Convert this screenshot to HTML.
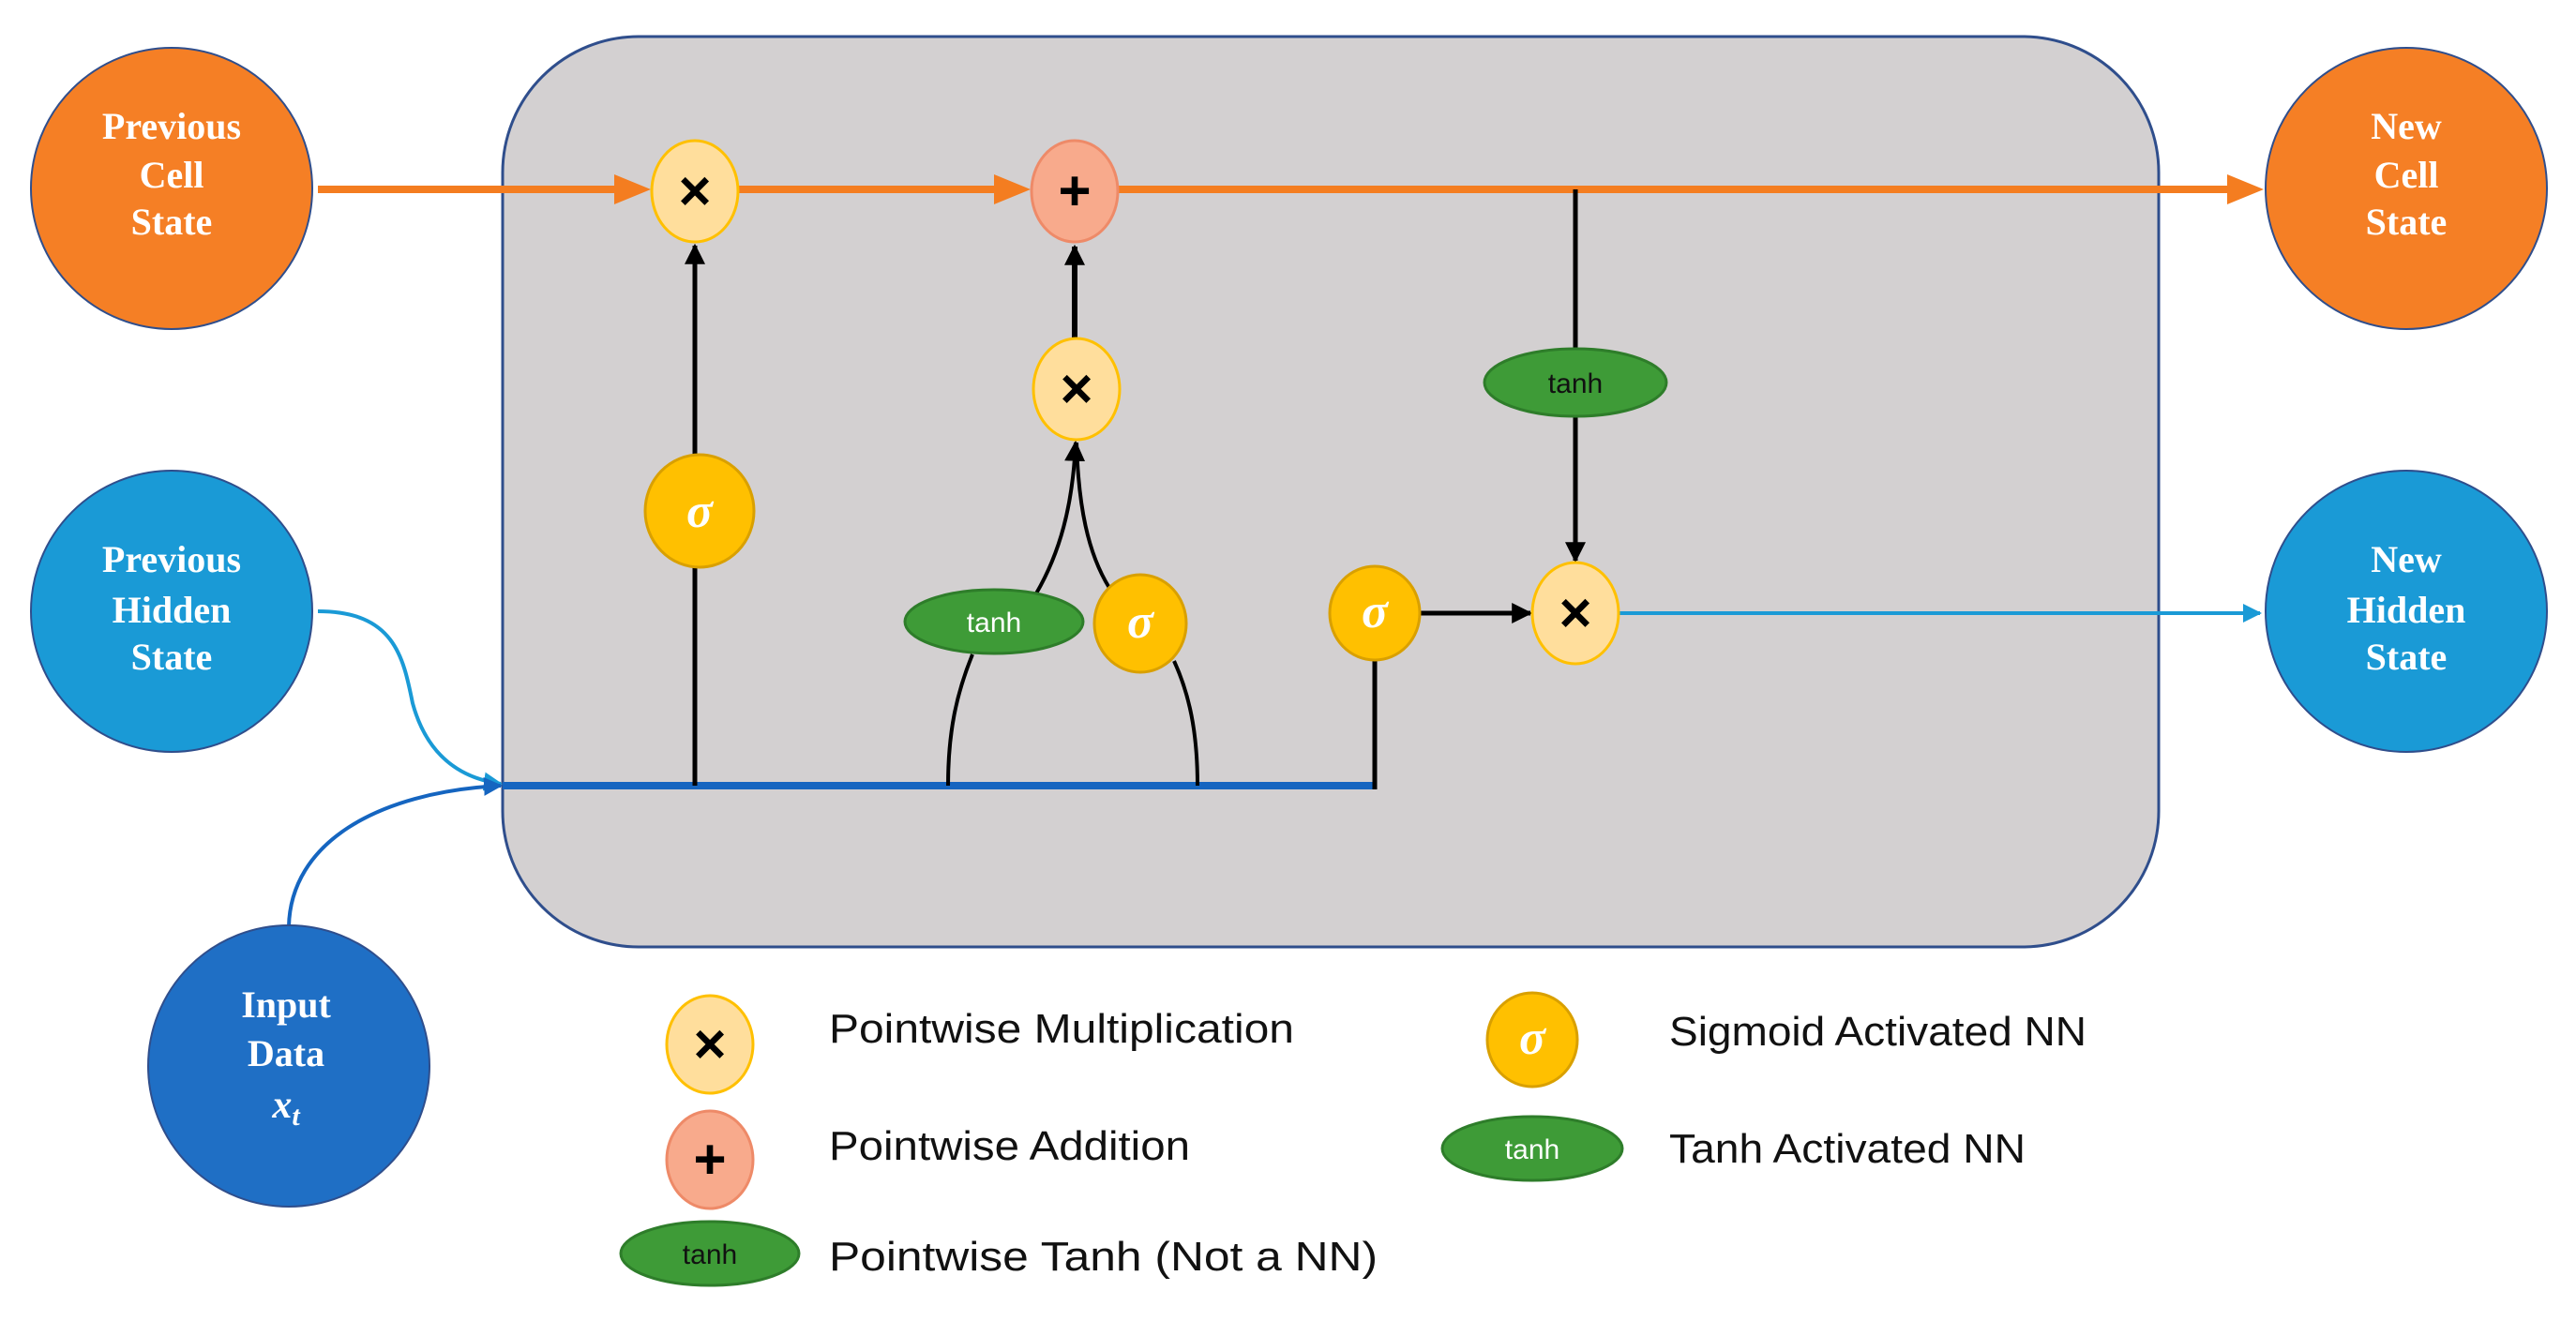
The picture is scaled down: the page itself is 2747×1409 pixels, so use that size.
<!DOCTYPE html>
<html><head><meta charset="utf-8"><style>
html,body{margin:0;padding:0;background:#fff;}
svg{display:block;}
.ct{font-family:"Liberation Serif",serif;font-weight:bold;fill:#fff;font-size:40px;text-anchor:middle;}
.lg{font-family:"Liberation Sans",sans-serif;font-size:44px;fill:#111;}
.tn{font-family:"Liberation Sans",sans-serif;font-size:30px;fill:#fff;text-anchor:middle;}
.op{font-family:"Liberation Sans",sans-serif;font-size:60px;font-weight:bold;fill:#000;text-anchor:middle;}
.sg{font-family:"Liberation Serif",serif;font-style:italic;font-weight:bold;font-size:52px;fill:#fff;text-anchor:middle;}
</style></head><body>
<svg width="2747" height="1409" viewBox="0 0 2747 1409" xmlns="http://www.w3.org/2000/svg">
<defs>
<marker id="ab" viewBox="0 0 10 10" refX="9" refY="5" markerWidth="22" markerHeight="22" orient="auto" markerUnits="userSpaceOnUse"><path d="M0,0 L10,5 L0,10z" fill="#000"/></marker>
<marker id="abl" viewBox="0 0 10 10" refX="9" refY="5" markerWidth="20" markerHeight="20" orient="auto" markerUnits="userSpaceOnUse"><path d="M0,0 L10,5 L0,10z" fill="#1A9AD6"/></marker>
<marker id="abd" viewBox="0 0 10 10" refX="9" refY="5" markerWidth="20" markerHeight="20" orient="auto" markerUnits="userSpaceOnUse"><path d="M0,0 L10,5 L0,10z" fill="#1565C0"/></marker>
</defs>
<rect x="536" y="39" width="1766" height="971" rx="145" ry="145" fill="#D3D0D1" stroke="#2F4E8C" stroke-width="3"/>

<line x1="339" y1="202" x2="660" y2="202" stroke="#F47D20" stroke-width="8"/>
<path d="M655,186 L694,202 L655,218z" fill="#F47D20"/>
<line x1="788" y1="202" x2="1065" y2="202" stroke="#F47D20" stroke-width="8"/>
<path d="M1060,186 L1099,202 L1060,218z" fill="#F47D20"/>
<line x1="1193" y1="202" x2="2380" y2="202" stroke="#F47D20" stroke-width="8"/>
<path d="M2375,186 L2414,202 L2375,218z" fill="#F47D20"/>

<line x1="536" y1="838" x2="1466" y2="838" stroke="#1565C0" stroke-width="8"/>
<line x1="1466" y1="842" x2="1466" y2="703" stroke="#000" stroke-width="5"/>

<line x1="741" y1="838" x2="741" y2="605" stroke="#000" stroke-width="5"/>
<line x1="741" y1="486" x2="741" y2="262" stroke="#000" stroke-width="5" marker-end="url(#ab)"/>

<path d="M1011,838 C1011,780 1020,740 1037,698" fill="none" stroke="#000" stroke-width="4"/>
<path d="M1277,838 C1277,780 1268,740 1252,705" fill="none" stroke="#000" stroke-width="4"/>
<path d="M1105,633 C1130,590 1144,540 1147,472" fill="none" stroke="#000" stroke-width="4" marker-end="url(#ab)"/>
<path d="M1183,627 C1160,590 1150,540 1148,472" fill="none" stroke="#000" stroke-width="4"/>
<line x1="1146" y1="360" x2="1146" y2="263" stroke="#000" stroke-width="6" marker-end="url(#ab)"/>

<line x1="1680" y1="202" x2="1680" y2="372" stroke="#000" stroke-width="5"/>
<line x1="1680" y1="444" x2="1680" y2="598" stroke="#000" stroke-width="5" marker-end="url(#ab)"/>
<line x1="1514" y1="654" x2="1632" y2="654" stroke="#000" stroke-width="5" marker-end="url(#ab)"/>
<line x1="1727" y1="654" x2="2410" y2="654" stroke="#1A9AD6" stroke-width="4" marker-end="url(#abl)"/>

<path d="M339,652 C420,652 430,700 440,750 C455,805 490,830 534,836" fill="none" stroke="#1A9AD6" stroke-width="4" marker-end="url(#abl)"/>
<path d="M308,988 C310,900 400,845 534,838" fill="none" stroke="#1565C0" stroke-width="4" marker-end="url(#abd)"/>

<ellipse cx="741" cy="204" rx="46" ry="54" fill="#FFDE9C" stroke="#FFC000" stroke-width="3"/>
<text x="741" y="224" class="op">×</text>
<ellipse cx="1146" cy="204" rx="46" ry="54" fill="#F8AA8C" stroke="#EE8A68" stroke-width="3"/>
<text x="1146" y="224" class="op">+</text>
<ellipse cx="1148" cy="415" rx="46" ry="54" fill="#FFDE9C" stroke="#FFC000" stroke-width="3"/>
<text x="1148" y="435" class="op">×</text>
<ellipse cx="746" cy="545" rx="58" ry="60" fill="#FFC000" stroke="#D9A000" stroke-width="3"/>
<text x="746" y="562" class="sg">σ</text>
<ellipse cx="1060" cy="663" rx="95" ry="34" fill="#3E9B37" stroke="#2E7D2A" stroke-width="3"/>
<text x="1060" y="674" class="tn">tanh</text>
<ellipse cx="1216" cy="665" rx="49" ry="52" fill="#FFC000" stroke="#D9A000" stroke-width="3"/>
<text x="1216" y="680" class="sg">σ</text>
<ellipse cx="1466" cy="654" rx="48" ry="50" fill="#FFC000" stroke="#D9A000" stroke-width="3"/>
<text x="1466" y="669" class="sg">σ</text>
<ellipse cx="1680" cy="408" rx="97" ry="36" fill="#3E9B37" stroke="#2E7D2A" stroke-width="3"/>
<text x="1680" y="419" class="tn" style="fill:#111">tanh</text>
<ellipse cx="1680" cy="654" rx="46" ry="54" fill="#FFDE9C" stroke="#FFC000" stroke-width="3"/>
<text x="1680" y="674" class="op">×</text>

<circle cx="183" cy="201" r="150" fill="#F57F25" stroke="#2F4E8C" stroke-width="2"/>
<text class="ct" x="183" y="148">Previous</text><text class="ct" x="183" y="200">Cell</text><text class="ct" x="183" y="250">State</text>
<circle cx="183" cy="652" r="150" fill="#1A9AD6" stroke="#2F4E8C" stroke-width="2"/>
<text class="ct" x="183" y="610">Previous</text><text class="ct" x="183" y="664">Hidden</text><text class="ct" x="183" y="714">State</text>
<circle cx="308" cy="1137" r="150" fill="#1F6FC5" stroke="#2F4E8C" stroke-width="2"/>
<text class="ct" x="305" y="1085">Input</text><text class="ct" x="305" y="1137">Data</text>
<text x="305" y="1192" style="font-family:'Liberation Serif',serif;font-style:italic;font-weight:bold;font-size:42px;fill:#fff;text-anchor:middle">x<tspan font-size="30" dy="8">t</tspan></text>
<circle cx="2566" cy="201" r="150" fill="#F57F25" stroke="#2F4E8C" stroke-width="2"/>
<text class="ct" x="2566" y="148">New</text><text class="ct" x="2566" y="200">Cell</text><text class="ct" x="2566" y="250">State</text>
<circle cx="2566" cy="652" r="150" fill="#1A9AD6" stroke="#2F4E8C" stroke-width="2"/>
<text class="ct" x="2566" y="610">New</text><text class="ct" x="2566" y="664">Hidden</text><text class="ct" x="2566" y="714">State</text>

<ellipse cx="757" cy="1114" rx="46" ry="52" fill="#FFDE9C" stroke="#FFC000" stroke-width="3"/>
<text x="757" y="1134" class="op">×</text>
<ellipse cx="757" cy="1237" rx="46" ry="52" fill="#F8AA8C" stroke="#EE8A68" stroke-width="3"/>
<text x="757" y="1257" class="op">+</text>
<ellipse cx="757" cy="1337" rx="95" ry="34" fill="#3E9B37" stroke="#2E7D2A" stroke-width="3"/>
<text x="757" y="1348" class="tn" style="fill:#111">tanh</text>
<ellipse cx="1634" cy="1109" rx="48" ry="50" fill="#FFC000" stroke="#D9A000" stroke-width="3"/>
<text x="1634" y="1124" class="sg">σ</text>
<ellipse cx="1634" cy="1225" rx="96" ry="34" fill="#3E9B37" stroke="#2E7D2A" stroke-width="3"/>
<text x="1634" y="1236" class="tn">tanh</text>
<text x="884" y="1112" class="lg" textLength="496" lengthAdjust="spacingAndGlyphs">Pointwise Multiplication</text>
<text x="884" y="1237" class="lg" textLength="385" lengthAdjust="spacingAndGlyphs">Pointwise Addition</text>
<text x="884" y="1355" class="lg" textLength="585" lengthAdjust="spacingAndGlyphs">Pointwise Tanh (Not a NN)</text>
<text x="1780" y="1115" class="lg" textLength="445" lengthAdjust="spacingAndGlyphs">Sigmoid Activated NN</text>
<text x="1780" y="1240" class="lg" textLength="380" lengthAdjust="spacingAndGlyphs">Tanh Activated NN</text>
</svg>
</body></html>
